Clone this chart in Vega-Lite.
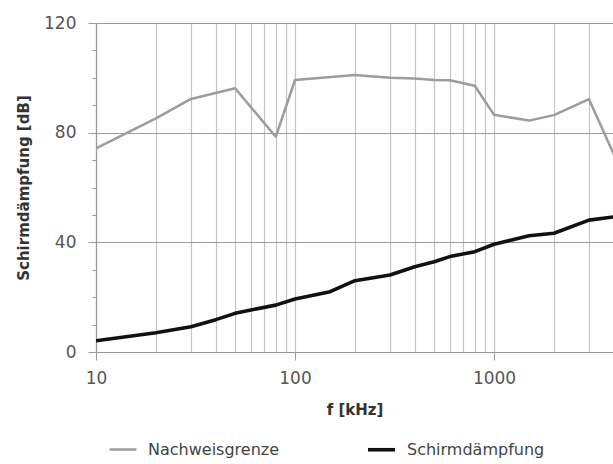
{
  "$schema": "https://vega.github.io/schema/vega-lite/v6.json",
  "autosize": "none",
  "padding": {"left": 96, "top": 23, "right": 0, "bottom": 112},
  "width": 517,
  "height": 329,
  "background": "white",
  "config": {
    "view": {"stroke": null},
    "font": "DejaVu Sans"
  },
  "data": {
    "values": [
      {"f": 10, "v": 74.3, "s": "Nachweisgrenze"},
      {"f": 20, "v": 85.2, "s": "Nachweisgrenze"},
      {"f": 30, "v": 92.3, "s": "Nachweisgrenze"},
      {"f": 50, "v": 96.2, "s": "Nachweisgrenze"},
      {"f": 80, "v": 78.5, "s": "Nachweisgrenze"},
      {"f": 100, "v": 99.2, "s": "Nachweisgrenze"},
      {"f": 200, "v": 101, "s": "Nachweisgrenze"},
      {"f": 300, "v": 100, "s": "Nachweisgrenze"},
      {"f": 400, "v": 99.8, "s": "Nachweisgrenze"},
      {"f": 500, "v": 99.2, "s": "Nachweisgrenze"},
      {"f": 600, "v": 99.1, "s": "Nachweisgrenze"},
      {"f": 800, "v": 97.1, "s": "Nachweisgrenze"},
      {"f": 1000, "v": 86.5, "s": "Nachweisgrenze"},
      {"f": 1500, "v": 84.4, "s": "Nachweisgrenze"},
      {"f": 2000, "v": 86.4, "s": "Nachweisgrenze"},
      {"f": 3000, "v": 92.2, "s": "Nachweisgrenze"},
      {"f": 4000, "v": 72, "s": "Nachweisgrenze"},
      {"f": 10, "v": 4.1, "s": "Schirmdämpfung"},
      {"f": 20, "v": 7.0, "s": "Schirmdämpfung"},
      {"f": 30, "v": 9.2, "s": "Schirmdämpfung"},
      {"f": 40, "v": 11.8, "s": "Schirmdämpfung"},
      {"f": 50, "v": 14.1, "s": "Schirmdämpfung"},
      {"f": 60, "v": 15.3, "s": "Schirmdämpfung"},
      {"f": 80, "v": 17.1, "s": "Schirmdämpfung"},
      {"f": 100, "v": 19.3, "s": "Schirmdämpfung"},
      {"f": 150, "v": 22, "s": "Schirmdämpfung"},
      {"f": 200, "v": 26, "s": "Schirmdämpfung"},
      {"f": 300, "v": 28.1, "s": "Schirmdämpfung"},
      {"f": 400, "v": 31.1, "s": "Schirmdämpfung"},
      {"f": 500, "v": 32.9, "s": "Schirmdämpfung"},
      {"f": 600, "v": 34.8, "s": "Schirmdämpfung"},
      {"f": 800, "v": 36.6, "s": "Schirmdämpfung"},
      {"f": 1000, "v": 39.3, "s": "Schirmdämpfung"},
      {"f": 1500, "v": 42.4, "s": "Schirmdämpfung"},
      {"f": 2000, "v": 43.3, "s": "Schirmdämpfung"},
      {"f": 3000, "v": 48.1, "s": "Schirmdämpfung"},
      {"f": 4000, "v": 49.3, "s": "Schirmdämpfung"}
    ]
  },
  "mark": {"type": "line", "clip": true, "strokeCap": "round", "strokeJoin": "round"},
  "encoding": {
    "x": {
      "field": "f",
      "type": "quantitative",
      "scale": {"type": "log", "domain": [10, 3960], "nice": false},
      "axis": {
        "title": "f [kHz]",
        "titleFont": "DejaVu Sans",
        "titleFontSize": 15,
        "titleFontWeight": "bold",
        "titleColor": "#333",
        "titlePadding": 16,
        "values": [10, 20, 30, 40, 50, 60, 70, 80, 90, 100, 200, 300, 400, 500, 600, 700, 800, 900, 1000, 2000, 3000],
        "format": "d",
        "labelExpr": "(datum.value === 10 || datum.value === 100 || datum.value === 1000) ? datum.label : ''",
        "labelFontSize": 17,
        "labelColor": "#555",
        "labelPadding": 10,
        "labelFlush": false,
        "labelOverlap": false,
        "tickSize": 8,
        "tickColor": "#999",
        "tickOpacity": {"expr": "(datum.value === 10 || datum.value === 100 || datum.value === 1000) ? 1 : 0"},
        "grid": true,
        "gridColor": "#c4c4c4",
        "gridWidth": 1.2,
        "domainColor": "#999",
        "domainWidth": 1.2
      }
    },
    "y": {
      "field": "v",
      "type": "quantitative",
      "scale": {"domain": [0, 120], "nice": false},
      "axis": {
        "title": "Schirmdämpfung [dB]",
        "titleFont": "DejaVu Sans",
        "titleFontSize": 15,
        "titleFontWeight": "bold",
        "titleColor": "#333",
        "titlePadding": 12,
        "values": [0, 10, 20, 30, 40, 50, 60, 70, 80, 90, 100, 110, 120],
        "labelExpr": "datum.value % 40 === 0 ? datum.label : ''",
        "labelFontSize": 17,
        "labelColor": "#555",
        "labelPadding": 12,
        "labelFlush": false,
        "labelOverlap": false,
        "tickSize": {"expr": "datum.value % 40 === 0 ? 8 : 4"},
        "tickColor": "#999",
        "grid": true,
        "gridColor": "#9a9a9a",
        "gridWidth": 1.2,
        "gridOpacity": {"expr": "datum.value % 40 === 0 ? 1 : 0"},
        "domainColor": "#999",
        "domainWidth": 1.2
      }
    },
    "color": {
      "field": "s",
      "type": "nominal",
      "title": null,
      "scale": {"domain": ["Nachweisgrenze", "Schirmdämpfung"], "range": ["#9c9c9c", "#111111"]},
      "legend": {
        "orient": "none",
        "legendX": 12,
        "legendY": 411,
        "direction": "horizontal",
        "symbolType": "stroke",
        "symbolSize": 729,
        "labelFontSize": 16,
        "labelColor": "#444",
        "labelOffset": 10,
        "columnPadding": 80
      }
    },
    "strokeWidth": {
      "field": "s",
      "type": "nominal",
      "title": null,
      "scale": {"domain": ["Nachweisgrenze", "Schirmdämpfung"], "range": [2.5, 3.6]}
    }
  }
}
